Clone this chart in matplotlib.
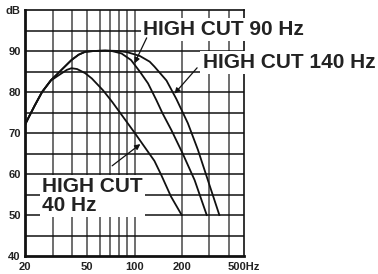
import matplotlib
matplotlib.use("Agg")
import matplotlib.pyplot as plt
from matplotlib.ticker import FixedLocator, NullFormatter

plt.rcParams["font.family"] = ["Liberation Sans", "DejaVu Sans"]

# ── data ──────────────────────────────────────────────────────────────────
freq_40 = [20, 21.1, 23, 25.7, 29.3, 32, 34.4, 37, 39.6, 43, 48.4, 53.4, 63,
           72, 80, 90, 100, 115, 134, 148, 171, 200]
db_40 = [72.0, 73.8, 76.6, 80.0, 82.8, 83.8, 84.6, 85.4, 85.8, 85.6, 84.6,
         83.3, 80.4, 77.6, 75.2, 72.5, 70.1, 66.8, 63.2, 59.8, 54.5, 50.0]

freq_90 = [20, 21.1, 23, 25.7, 29.3, 32, 34.4, 39.6, 44, 48.4, 55, 65, 71.5,
           82.6, 95, 108, 122, 138, 151, 172, 203, 242, 289]
db_90 = [72.0, 73.8, 76.6, 80.0, 82.9, 84.3, 85.5, 87.8, 89.1, 89.8, 90.0,
         90.1, 90.0, 89.4, 87.8, 85.0, 82.1, 78.0, 74.8, 70.7, 65.0, 58.5, 50.0]

freq_140 = [20, 21.1, 23, 25.7, 29.3, 32, 34.4, 39.6, 44, 48.4, 55, 65, 80,
            90, 108, 125, 134, 160, 185, 219, 254, 294, 348]
db_140 = [72.0, 73.8, 76.6, 80.0, 82.9, 84.3, 85.5, 87.8, 89.1, 89.8, 90.0,
          90.1, 90.0, 89.7, 88.8, 87.4, 86.2, 82.8, 78.3, 72.4, 65.9, 58.5, 50.0]

x_ticks = [20, 50, 100, 200, 500]
x_labels = ["20", "50", "100", "200", "500Hz"]
x_grid = [30, 40, 50, 60, 70, 80, 90, 100, 200, 300, 400]
y_ticks = [40, 50, 60, 70, 80, 90, 100]
y_labels = ["40", "50", "60", "70", "80", "90", "dB"]
y_grid = [45, 50, 55, 60, 65, 70, 75, 80, 85, 90, 95]

# ── figure ────────────────────────────────────────────────────────────────
fig = plt.figure(figsize=(3.78, 2.74), dpi=100)
ax = fig.add_axes([25 / 378, 1 - 256 / 274, 219 / 378, 246 / 274])
ax.set_xscale("log")
ax.set_xlim(20, 500)
ax.set_ylim(40, 100)

for x in x_grid:
    ax.axvline(x, color="#555555", lw=1.2, zorder=1)
for y in y_grid:
    ax.axhline(y, color="#111111", lw=1.1, zorder=1)

for f, d in [(freq_40, db_40), (freq_90, db_90), (freq_140, db_140)]:
    ax.plot(f, d, color="#111111", lw=1.3, zorder=3)

ax.xaxis.set_major_locator(FixedLocator(x_ticks))
ax.xaxis.set_minor_formatter(NullFormatter())
ax.set_xticks(x_ticks)
ax.set_xticklabels(x_labels)
ax.set_yticks(y_ticks)
ax.set_yticklabels(y_labels)
ax.tick_params(which="both", length=0, labelsize=8, pad=4)
for lab in ax.get_xticklabels() + ax.get_yticklabels():
    lab.set_fontweight("bold")
    lab.set_color("#222222")
ax.tick_params(axis="y", pad=3)

for side in ["left", "bottom"]:
    ax.spines[side].set_linewidth(2.0)
for side in ["top", "right"]:
    ax.spines[side].set_linewidth(1.2)
for s in ax.spines.values():
    s.set_color("#111111")
    s.set_zorder(4)

# ── labels and arrows ────────────────────────────────────────────────────
box = dict(facecolor="white", edgecolor="none", pad=1.5)
tfont = dict(fontsize=15, fontweight="bold", color="#222222", zorder=5,
             clip_on=False, bbox=box)

ax.text(112.9, 93.9, "HIGH CUT 90 Hz", ha="left", va="baseline", **tfont)
ax.text(272, 85.85, "HIGH CUT 140 Hz", ha="left", va="baseline", **tfont)
ax.text(25.7, 51.0, "HIGH CUT\n40 Hz", ha="left", va="baseline",
        linespacing=1.0, **tfont)

arrow = dict(arrowstyle="-|>", color="#111111", lw=0.9, mutation_scale=8,
             shrinkA=0, shrinkB=0)
ax.annotate("", xy=(100, 87.0), xytext=(119.6, 93.2), arrowprops=arrow, zorder=6)
ax.annotate("", xy=(180, 79.6), xytext=(251, 85.9), arrowprops=arrow, zorder=6)
ax.annotate("", xy=(109, 67.3), xytext=(72, 62.0), arrowprops=arrow, zorder=6)

fig.savefig("out.png", dpi=100, facecolor="white")
